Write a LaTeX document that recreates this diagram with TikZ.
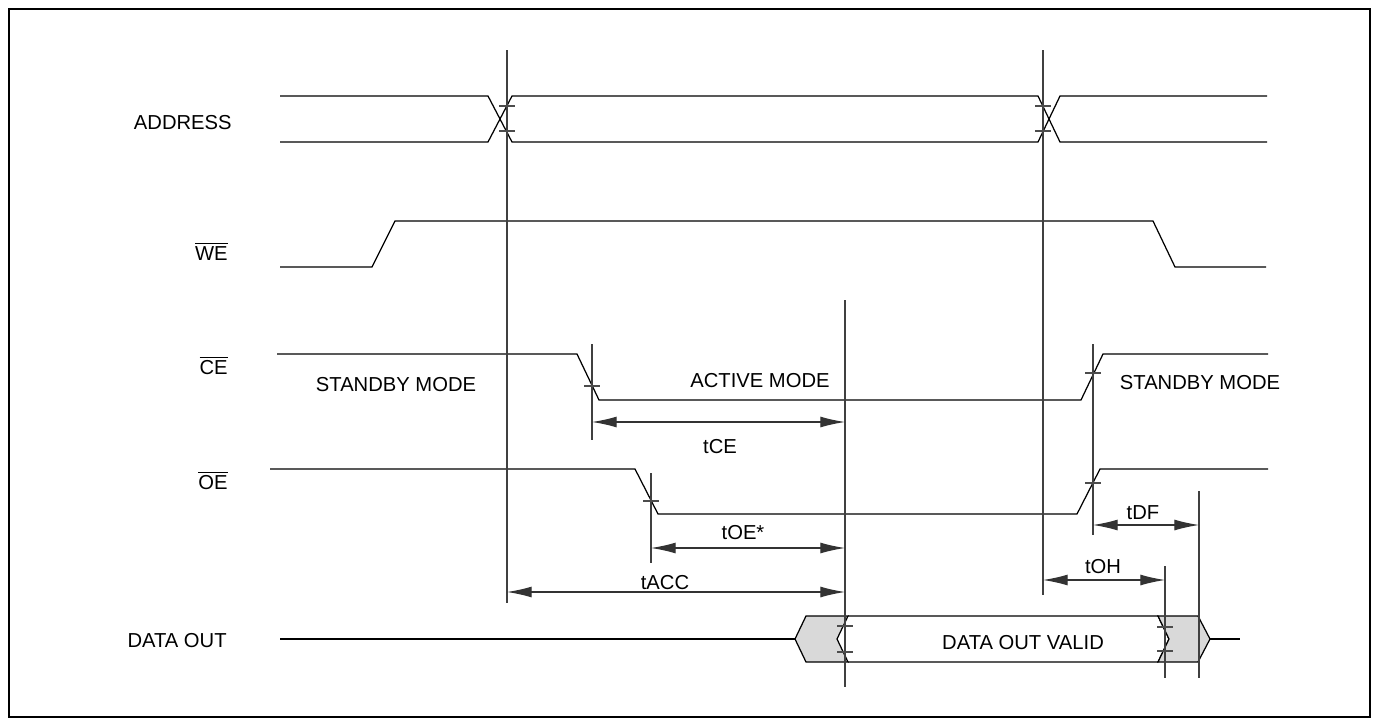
\documentclass[tikz,border=0pt]{standalone}
\usepackage{fontspec}
\setmainfont{Liberation Sans}
\usetikzlibrary{arrows.meta,positioning}
\tikzset{
    %Define standard arrow tip
    pfeil/.tip={Latex[length=14pt,width=6.2pt]},
    %Define style for signal waveforms
    signal/.style={
           draw=black,
           line width=0.7pt,
           line join=miter},
    %Define style for timing reference lines
    timeline/.style={
           draw=black!75,
           line width=0.6pt},
    tickmark/.style={
           draw=black!70,
           line width=0.6pt},
    %Define style for shaded bus areas
    busfill/.style={
           signal,
           fill=black!15},
    % Define arrow style
    dimpil/.style={
           pfeil-pfeil,
           draw=black!80,
           line width=0.6pt},
    %Define style for texts
    siglabel/.style={
           anchor=base east,
           inner sep=0pt,
           font=\fontsize{11.5}{13}\selectfont},
    modelabel/.style={
           anchor=base,
           inner sep=0pt,
           font=\fontsize{11.5}{13}\selectfont}
}

\begin{document}
\begin{tikzpicture}[x=0.02cm,y=-0.02cm]
\useasboundingbox (0,0) rectangle (1379,727);
\draw[line width=0.6pt] (9,9) rectangle (1370,717);

 %signal names
\node[siglabel] (addr) at (232,129) {ADDRESS};
\node[siglabel] (we) at (228,260) {$\overline{\mbox{WE}}$};
\node[siglabel] (ce) at (228,374) {$\overline{\mbox{CE}}$};
\node[siglabel] (oe) at (228,489) {$\overline{\mbox{OE}}$};
\node[siglabel] (dout) at (227,647) {DATA OUT};

 %address bus
\draw[signal] (280,96) -- (488,96) -- (512,142) -- (1038,142) -- (1060,96) -- (1267,96);
\draw[signal] (280,142) -- (488,142) -- (512,96) -- (1038,96) -- (1060,142) -- (1267,142);

 %control lines
\draw[signal] (280,267) -- (372,267) -- (395,221) -- (1153,221) -- (1175,267) -- (1266,267);
\draw[signal] (277,354) -- (577,354) -- (599,400) -- (1081,400) -- (1103,354) -- (1268,354);
\draw[signal] (270,469) -- (635,469) -- (658,514) -- (1077,514) -- (1100,469) -- (1268,469);

 %data out
\draw[signal] (280,639) -- (795,639);
\draw[busfill] (795,639) -- (806,616) -- (848,616) -- (837,639) -- (848,662) -- (806,662) -- cycle;
\draw[signal] (848,616) -- (1158,616) -- (1169,639) -- (1158,662) -- (848,662);
\draw[busfill] (1158,616) -- (1198,616) -- (1210,639) -- (1198,662) -- (1158,662) -- (1169,639) -- cycle;
\draw[signal] (1210,639) -- (1240,639);
\node[modelabel] (valid) at (1023,649) {DATA OUT VALID};

 %modes
\node[modelabel] (stbyl) at (396,391) {STANDBY MODE};
\node[modelabel] (active) at (760,387) {ACTIVE MODE};
\node[modelabel] (stbyr) at (1200,389) {STANDBY MODE};

 %timing reference lines
\draw[timeline] (507,50) -- (507,603);
\draw[timeline] (1043,50) -- (1043,595);
\draw[timeline] (592,344) -- (592,440);
\draw[timeline] (845,300) -- (845,687);
\draw[timeline] (651,473) -- (651,563);
\draw[timeline] (1093,344) -- (1093,535);
\draw[timeline] (1165,566) -- (1165,678);
\draw[timeline] (1199,491) -- (1199,678);

\foreach \x/\y in {507/106,507/131,1043/106,1043/131,592/386,1093/373,
                   651/501,1093/483,845/626,845/652,1165/627,1165/651}
    \draw[tickmark] (\x-8,\y) -- (\x+8,\y);

 %timing parameters
\coordinate (ce0) at (592,422);  \coordinate (ce1) at (845,422);
\coordinate (oe0) at (651,548);  \coordinate (oe1) at (845,548);
\coordinate (acc0) at (507,592); \coordinate (acc1) at (845,592);
\coordinate (oh0) at (1043,580); \coordinate (oh1) at (1165,580);
\coordinate (df0) at (1093,525); \coordinate (df1) at (1199,525);
\draw[dimpil] (ce0) -- (ce1);
\draw[dimpil] (oe0) -- (oe1);
\draw[dimpil] (acc0) -- (acc1);
\draw[dimpil] (oh0) -- (oh1);
\draw[dimpil] (df0) -- (df1);
\node[modelabel] (tce) at (720,453) {tCE};
\node[modelabel] (toe) at (743,539) {tOE*};
\node[modelabel] (tacc) at (665,589) {tACC};
\node[modelabel] (toh) at (1103,573) {tOH};
\node[modelabel] (tdf) at (1143,519) {tDF};
\end{tikzpicture}
\end{document}
